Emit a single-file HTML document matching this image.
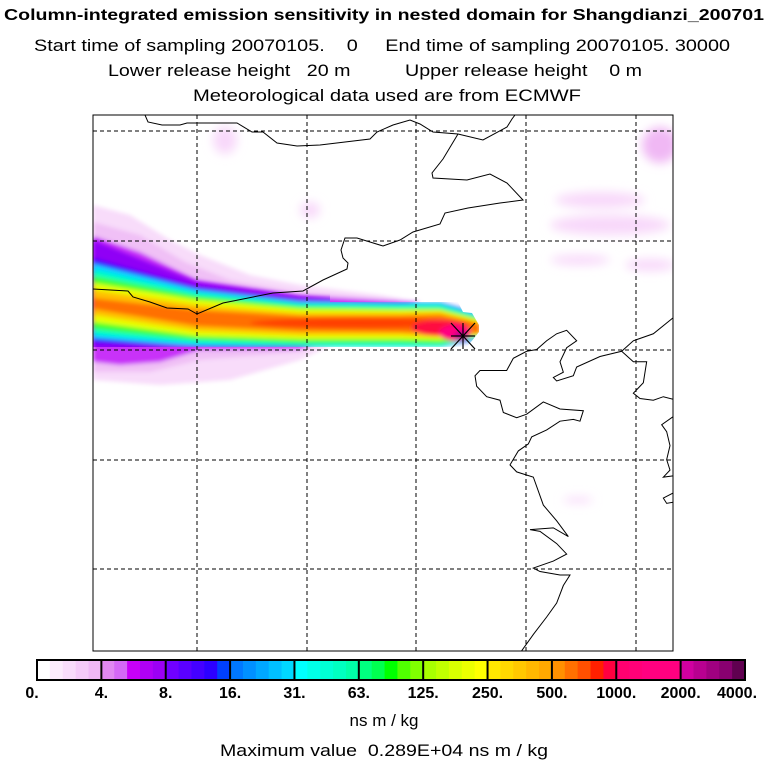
<!DOCTYPE html>
<html><head><meta charset="utf-8"><style>
html,body{margin:0;padding:0;background:#fff;}
svg{display:block;font-family:"Liberation Sans",Arial,sans-serif;}
</style></head><body>
<svg id="s" width="768" height="768" viewBox="0 0 768 768">
<defs>
<clipPath id="plot"><rect x="93" y="115" width="580" height="536"/></clipPath>
<clipPath id="core"><polygon points="93,200 330,200 330,302 458,302 463,312 472,313 479,325 479,332 467,347 93,347"/></clipPath>
<filter id="bl" x="-5%" y="-20%" width="110%" height="140%"><feGaussianBlur stdDeviation="2.2"/></filter>
<filter id="bl2"><feGaussianBlur stdDeviation="5"/></filter>
</defs>
<g>
<text x="384" y="20" text-anchor="middle" font-weight="bold" font-size="16" textLength="760" lengthAdjust="spacingAndGlyphs">Column-integrated emission sensitivity in nested domain for Shangdianzi_200701</text>
<text x="382" y="51" text-anchor="middle" font-size="17" textLength="696" lengthAdjust="spacingAndGlyphs" xml:space="preserve">Start time of sampling 20070105.    0     End time of sampling 20070105. 30000</text>
<text x="375" y="76" text-anchor="middle" font-size="17" textLength="534" lengthAdjust="spacingAndGlyphs" xml:space="preserve">Lower release height   20 m          Upper release height    0 m</text>
<text x="387" y="101" text-anchor="middle" font-size="17" textLength="388" lengthAdjust="spacingAndGlyphs">Meteorological data used are from ECMWF</text>
</g>
<g id="map" clip-path="url(#plot)">
<g filter="url(#bl2)" fill="#f8d8fa">
<ellipse cx="660" cy="145" rx="18" ry="18" fill="#f0b8f4"/>
<ellipse cx="600" cy="200" rx="45" ry="8"/>
<ellipse cx="610" cy="225" rx="60" ry="10"/>
<ellipse cx="650" cy="265" rx="25" ry="6"/>
<ellipse cx="580" cy="260" rx="30" ry="5"/>
<ellipse cx="225" cy="140" rx="12" ry="14"/>
<ellipse cx="183" cy="270" rx="12" ry="8"/>
<ellipse cx="310" cy="210" rx="10" ry="8"/>
<ellipse cx="578" cy="500" rx="15" ry="3"/>
</g>
<g filter="url(#bl)">
<polygon fill="#f8dcfa" points="93,205 130,215 170,240 200,255 250,275 300,285 380,295 420,302 300,360 230,380 160,385 93,380"/>
<polygon fill="#f0c0f6" points="93,222 140,235 185,262 230,280 300,292 400,300 300,352 200,360 150,372 93,372"/>
<polygon fill="#c830f8" points="93,236 140,252 197,280 300,296 420,302 300,349 200,350 160,362 120,365 93,362"/>
</g>
<g clip-path="url(#core)">
<g filter="url(#bl)" id="bands"></g>
</g>
<g stroke="#000" stroke-width="1" stroke-dasharray="4,3" fill="none" id="grid"></g>
<g stroke="#000" stroke-width="1" fill="none" id="coast"></g>
<g stroke="#000" stroke-width="1.2">
<line x1="451" y1="336" x2="475" y2="336"/><line x1="463" y1="323" x2="463" y2="349"/>
<line x1="451" y1="323" x2="475" y2="349"/><line x1="451" y1="349" x2="475" y2="323"/>
</g>
</g>
<rect x="93" y="115" width="580" height="536" fill="none" stroke="#000" stroke-width="1"/>
<g id="cbar"></g>
<text x="384" y="726" text-anchor="middle" font-size="17">ns m / kg</text>
<text x="384" y="756" text-anchor="middle" font-size="17" textLength="328" lengthAdjust="spacingAndGlyphs" xml:space="preserve">Maximum value  0.289E+04 ns m / kg</text>
</svg>
<script>
const cbLabels = ["0.","4.","8.","16.","31.","63.","125.","250.","500.","1000.","2000.","4000."];
const cbColors = [
 ["#ffffff","#fcebfd","#f9dcfb","#f5cbf9","#f0b8f6"],
 ["#e088f2","#d468f6","#c800f8","#b000f6","#9c00f4"],
 ["#7000ff","#5a00ff","#4400ff","#2c00ff","#0040ff"],
 ["#0078ff","#0090ff","#00a8ff","#00c0ff","#00d8ff"],
 ["#00ffff","#00ffe8","#00ffd4","#00ffc0","#00ffa8"],
 ["#00ff80","#00ff50","#00ff00","#50ff00","#80ff00"],
 ["#a8ff00","#c0ff00","#d8ff00","#ecff00","#ffff00"],
 ["#ffe800","#ffd800","#ffc800","#ffb800","#ffa800"],
 ["#ff9000","#ff7000","#ff5000","#ff2000","#ff0040"],
 ["#ff0070","#ff0078","#ff0080","#ff0080","#ff0080"],
 ["#d000a0","#b80090","#a00080","#880070","#600050"]
];
const NS="http://www.w3.org/2000/svg";
function mk(tag,attrs,parent){const e=document.createElementNS(NS,tag);for(const k in attrs)e.setAttribute(k,attrs[k]);parent.appendChild(e);return e;}
const cb=document.getElementById('cbar');
const cbX0=37,cbX1=745,cbY=660,cbH=20;
const segW=(cbX1-cbX0)/cbColors.length;
function cbx(i){return cbX0+i*segW;}
cbColors.forEach((seg,i)=>{seg.forEach((c,j)=>{
 const r=mk('rect',{x:cbx(i)+j*segW/5,y:cbY,width:segW/5+0.5,height:cbH,fill:c},cb);
 
 
});});
for(let i=1;i<cbColors.length;i++){const l=mk('line',{x1:cbx(i),x2:cbx(i),y1:cbY,y2:cbY+cbH,stroke:'#000','stroke-width':2},cb);
 
 }
const fr=mk('rect',{x:cbX0,y:cbY,width:cbX1-cbX0,height:cbH,fill:'none',stroke:'#000','stroke-width':2},cb);


cbLabels.forEach((t,i)=>{let x=cbx(i);if(i===cbLabels.length-1)x-=8;if(i===0)x-=5;
 const e=mk('text',{x:x,y:698,'text-anchor':'middle','font-size':16,'font-weight':'bold'},cb);e.textContent=t;
 
 });
const g=document.getElementById('grid');
[197,307,416,526,636].forEach(x=>{const l=mk('line',{x1:x,x2:x,y1:115,y2:651},g);
 
 });
[131,241,350,460,569].forEach(y=>{const l=mk('line',{x1:93,x2:673,y1:y,y2:y},g);
 
 });
const bx=[93,197,300,400,440,480];
const bands=[
 ["#9000f6",[240,282,296,302,302,313],[354,347,347,347,347,340]],
 ["#3a10ff",[258,287,300,302,302,313],[343,347,347,347,347,340]],
 ["#00d8ff",[264,290,302,303,303,315],[338,346,347,347,347,338]],
 ["#00ffc0",[270,293,304,305,305,317],[334,343,346,346,346,337]],
 ["#40ff30",[276,296,306,308,308,318],[329,340,343,343,344,336]],
 ["#e8ff00",[283,300,309,310,310,320],[322,336,339,339,340,335]],
 ["#ffc000",[290,305,313,313,312,322],[315,331,335,335,337,334]],
 ["#ff7000",[298,310,316,316,315,324],[309,326,331,332,334,333]]
];
const bg=document.getElementById('bands');
bands.forEach(b=>{const pts=[];bx.forEach((x,i)=>pts.push(x+','+b[1][i]));for(let i=bx.length-1;i>=0;i--)pts.push(bx[i]+','+b[2][i]);
 const p=mk('polygon',{points:pts.join(' '),fill:b[0]},bg);
 
 });
mk('ellipse',{cx:360,cy:323,rx:110,ry:5,fill:'#ff4000'},bg);
mk('ellipse',{cx:440,cy:328,rx:28,ry:8,fill:'#ff1040'},bg);
mk('ellipse',{cx:455,cy:333,rx:16,ry:8,fill:'#ff0080'},bg);
mk('ellipse',{cx:461,cy:336,rx:7,ry:5,fill:'#c00090'},bg);
const coast=document.getElementById('coast');
const lines=[
 [[145,115],[148,122],[162,125],[180,125],[187,123],[237,123],[252,132],[263,132],[277,143],[297,146],[320,145],[370,139],[377,132],[393,125],[410,120],[420,124],[433,132],[458,134],[483,140],[507,127],[512,119],[515,115]],
 [[93,289],[128,291],[133,297],[150,302],[167,308],[188,309],[197,314],[223,303],[273,293],[303,291],[323,280],[347,269],[348,263],[343,258],[341,250],[345,238],[357,238],[383,246],[400,240],[413,232],[440,224],[445,213],[468,208],[500,203],[523,200],[507,183],[490,174],[467,180],[433,178],[432,173],[443,159],[458,134]]
];
const raw=[
 [[825,590],[760,640],[700,660],[665,690],[600,705],[530,735],[520,760],[470,775],[460,765],[490,750],[480,720],[500,680],[530,660],[500,630],[470,640],[440,660],[410,685],[380,690],[340,710],[320,745],[240,745],[225,760],[230,790],[260,820],[300,830],[310,865],[350,880],[380,870],[430,835],[480,855],[550,860],[540,890],[520,885],[480,890],[440,915],[395,935],[385,955],[355,975],[330,1015],[350,1035],[400,1050],[430,1130],[470,1175],[505,1220],[460,1195],[390,1200],[420,1205],[470,1240],[500,1270],[460,1290],[400,1310],[420,1320],[480,1330],[510,1330],[490,1360],[470,1410],[440,1450],[400,1500],[370,1540],[355,1560]],
 [[665,690],[700,720],[740,720],[730,780],[700,810],[720,825],[760,830],[790,820],[830,830]],
 [[830,870],[785,900],[800,920],[810,960],[800,1000],[810,1030],[790,1050],[830,1045]],
 [[830,1090],[790,1110],[800,1125],[830,1120]]
];
raw.forEach(r=>lines.push(r.map(p=>[400+p[0]/3,110+p[1]/2.86])));
lines.forEach(l=>{const p=mk('polyline',{points:l.map(q=>q.join(',')).join(' ')},coast);
 
 });
</script>
</body></html>
